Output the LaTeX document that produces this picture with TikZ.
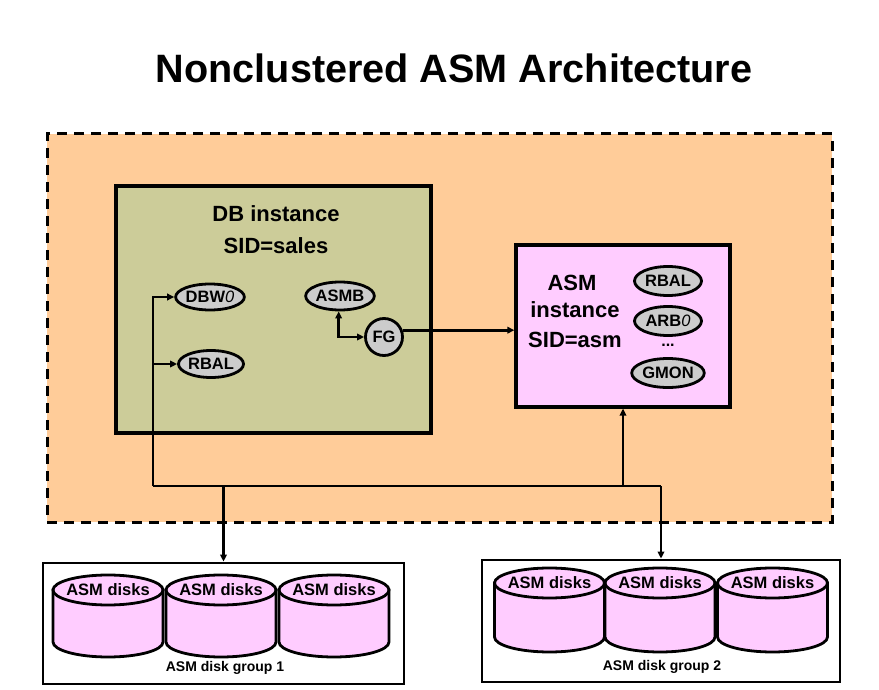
\documentclass[tikz,border=0pt]{standalone}
\usepackage{fontspec}
\setmainfont{Liberation Sans}
\usetikzlibrary{shapes.geometric,arrows.meta}
\definecolor{outerfill}{HTML}{FFCC99}
\definecolor{dbfill}{HTML}{CCCC99}
\definecolor{asmfill}{HTML}{FFCCFF}
\definecolor{procfill}{HTML}{CCCCCC}
\definecolor{diskfill}{HTML}{FFCCFF}
\tikzset{
  boxnode/.style={draw=black,line width=3.2pt,inner sep=0pt},
  proc/.style={ellipse,draw=black,line width=2.8pt,fill=procfill,inner sep=0pt,
    font=\fontsize{16.5}{16.5}\selectfont\bfseries},
  lbl/.style={font=\fontsize{22}{22}\selectfont\bfseries,inner sep=0pt},
  conn/.style={line width=2.8pt},
  arr/.style={conn,-{Triangle[length=7pt,width=6.5pt]}},
  darr/.style={conn,{Triangle[length=7pt,width=6.5pt]}-{Triangle[length=7pt,width=6.5pt]}},
  disklbl/.style={font=\fontsize{16.5}{16.5}\selectfont\bfseries,inner sep=0pt},
  grouplbl/.style={font=\fontsize{14}{14}\selectfont\bfseries,inner sep=0pt},
  disk/.style={draw=black,line width=2.8pt,fill=diskfill}
}
\newcommand{\mydisk}[4]{% cx, top cy, bottom cy, name
  \path[disk] (#1-55,#2) -- (#1-55,#3) arc[start angle=180,end angle=0,x radius=55,y radius=15] -- (#1+55,#2) -- cycle;
  \path[disk] (#1,#2) ellipse[x radius=55,y radius=15];
  \node[disklbl] (#4) at (#1,#2) {ASM disks};
}
\newcommand{\itzero}{\textmd{\textit{0}}}
\begin{document}
\begin{tikzpicture}[x=1pt,y=-1pt]
\useasboundingbox (0,0) rectangle (879,690);
% title
\node[font=\fontsize{39.6}{39.6}\selectfont\bfseries,inner sep=0pt] (title) at (454,68) {Nonclustered ASM Architecture};
% outer dashed area
\node[draw=black,fill=outerfill,line width=3pt,dash pattern=on 10pt off 7pt,
  minimum width=785pt,minimum height=388pt,inner sep=0pt] (outer) at (439.5,328) {};
% DB instance box
\node[boxnode,fill=dbfill,minimum width=315pt,minimum height=247pt] (db) at (273.5,309.5) {};
\node[lbl] (dbt1) at (276,214) {DB instance};
\node[lbl] (dbt2) at (276,246) {SID=sales};
\node[proc,minimum width=64pt,minimum height=26pt] (dbw) at (210,297) {DBW\itzero};
\node[proc,minimum width=65pt,minimum height=27pt] (rbal1) at (211,364) {RBAL};
\node[proc,minimum width=65pt,minimum height=28pt] (asmb) at (340,296) {ASMB};
\node[proc,circle,minimum size=37pt] (fg) at (384,337) {FG};
% ASM instance box
\node[boxnode,fill=asmfill,minimum width=214pt,minimum height=162pt] (asm) at (623,326) {};
\node[lbl] (asmt1) at (572,283) {ASM};
\node[lbl] (asmt2) at (575,310) {instance};
\node[lbl] (asmt3) at (575,340) {SID=asm};
\node[proc,minimum width=67pt,minimum height=29pt] (rbal2) at (668,281) {RBAL};
\node[proc,minimum width=67pt,minimum height=29pt] (arb) at (668,321) {ARB\itzero};
\node[font=\fontsize{16}{16}\selectfont\bfseries,inner sep=0pt] (dots) at (668,345) {...};
\node[proc,minimum width=67pt,minimum height=29pt] (gmon) at (668,373) {GMON};
% disk groups
\node[draw=black,line width=2.8pt,fill=white,minimum width=361pt,minimum height=121pt,inner sep=0pt] (dg1) at (223.5,623.5) {};
\node[draw=black,line width=2.8pt,fill=white,minimum width=358pt,minimum height=122pt,inner sep=0pt] (dg2) at (661,621) {};
\mydisk{108}{590}{642}{d11}
\mydisk{221}{590}{642}{d12}
\mydisk{334}{590}{642}{d13}
\mydisk{549.5}{583}{637}{d21}
\mydisk{660}{583}{637}{d22}
\mydisk{772.5}{583}{637}{d23}
\node[grouplbl] (g1) at (225,668) {ASM disk group 1};
\node[grouplbl] (g2) at (662,667) {ASM disk group 2};
% connectors
\coordinate (jL) at (153,486);
\coordinate (jR) at (dg2.north |- jL);
\draw[arr] (jL) |- (dbw.west);
\draw[arr] (rbal1.west -| jL) -- (rbal1.west);
\draw[conn] (jL) -- (jR);
\draw[arr] (asm.south |- jL) -- (asm.south);
\draw[arr] (dg1.north |- jL) -- (dg1.north);
\draw[arr] (jR) -- (dg2.north);
\draw[arr] (fg.20) -- (fg.20 -| asm.west);
\draw[darr] (asmb.265) |- (fg.west);
\end{tikzpicture}
\end{document}
